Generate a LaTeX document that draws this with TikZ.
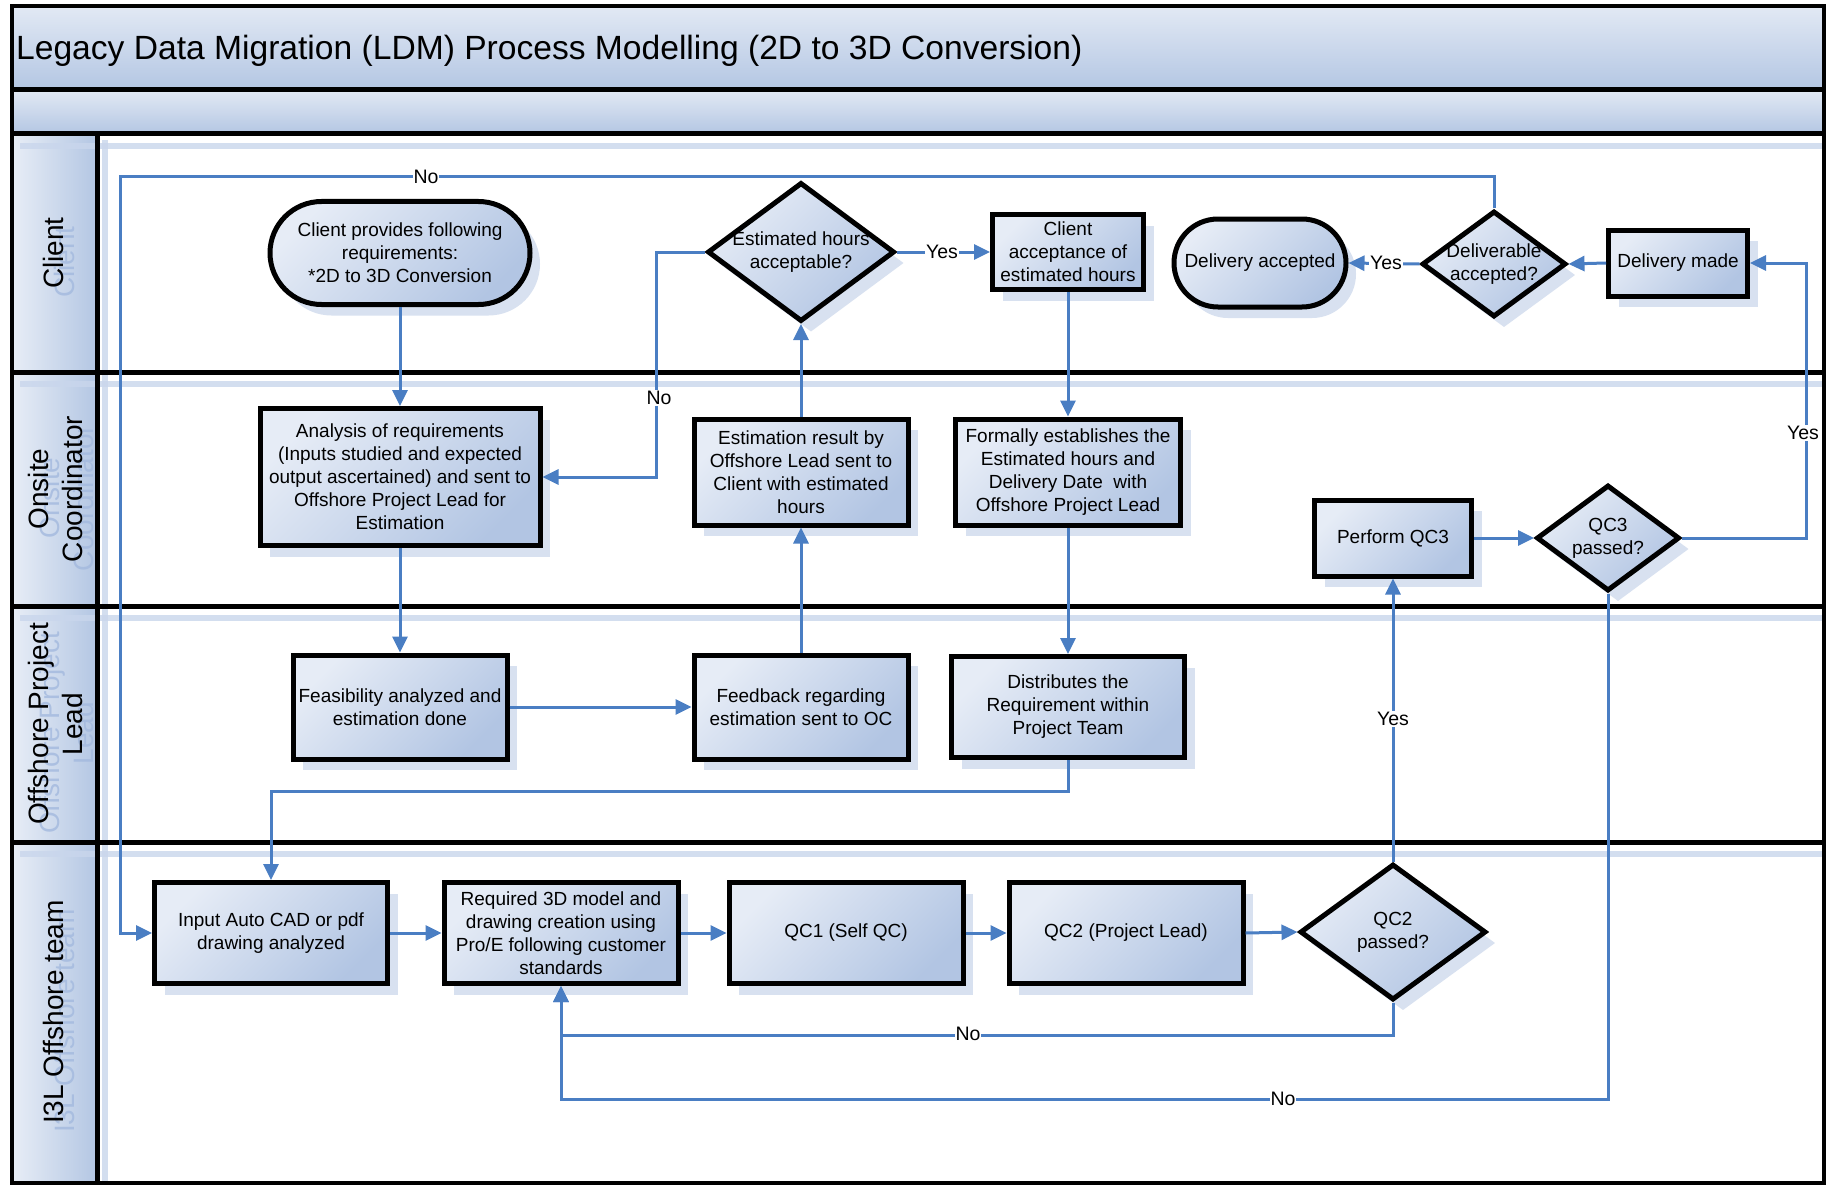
\documentclass[tikz,border=0pt]{standalone}
\usepackage{fontspec}
\setmainfont{Liberation Sans}
\usetikzlibrary{arrows.meta,shapes.geometric,shapes.misc,shadows,calc}

\definecolor{lineblue}{HTML}{4A7EC3}
\definecolor{boxlight}{HTML}{E6ECF6}
\definecolor{boxdark}{HTML}{B2C5E3}
\definecolor{shadowblue}{HTML}{D8E1F0}
\definecolor{ghostblue}{HTML}{A3B9DE}
\definecolor{bandlight}{HTML}{E2E9F4}
\definecolor{banddark}{HTML}{B3C6E3}
\definecolor{laneshadow}{HTML}{C9D6EC}

\tikzset{
  boxbase/.style={draw=black, line width=5pt, top color=boxlight, bottom color=boxdark, shading angle=45,
    general shadow={fill=shadowblue, shadow xshift=10pt, shadow yshift=-11pt},
    align=center, font=\fontsize{19}{23}\selectfont, inner sep=2pt},
  procbox/.style={boxbase, rectangle},
  termbox/.style={boxbase, rounded rectangle},
  decbox/.style={boxbase, diamond, inner sep=0pt},
  dectext/.style={align=center, font=\fontsize{19}{23}\selectfont},
  conn/.style={draw=lineblue, line width=3pt, -{Triangle[length=16pt,width=15pt]}},
  lbl/.style={fill=white, inner sep=1pt, font=\fontsize{19.5}{21}\selectfont},
  band/.style={draw=none, top color=bandlight, bottom color=banddark, anchor=north west, inner sep=0pt},
  lanehdr/.style={draw=none, left color=bandlight!80!white, right color=banddark, anchor=north west, inner sep=0pt, minimum width=85pt},
  lanetxt/.style={rotate=90, align=center, font=\fontsize{28}{34}\selectfont},
  ghosttxt/.style={lanetxt, text=ghostblue, opacity=0.8},
  laneline/.style={draw=black, line width=5pt},
  shline/.style={draw=laneshadow, line width=6pt, opacity=0.8},
}

\begin{document}
\begin{tikzpicture}[x=1pt,y=-1pt]
\useasboundingbox (0,0) rectangle (1833,1185);
\fill[white] (0,0) rectangle (1833,1185);

% bands
\node[band, minimum width=1812pt, minimum height=84pt] (titleband) at (12,6) {};
\node[band, minimum width=1812pt, minimum height=44pt] (subband) at (12,90) {};
\node[anchor=west, font=\fontsize{33.6}{38}\selectfont, inner sep=0pt] (title) at (16,51) {Legacy Data Migration (LDM) Process Modelling (2D to 3D Conversion)};

% lane headers
\node[lanehdr, minimum height=238pt] (h1) at (12,134) {};
\node[lanehdr, minimum height=234pt] (h2) at (12,372) {};
\node[lanehdr, minimum height=236pt] (h3) at (12,606) {};
\node[lanehdr, minimum height=341pt] (h4) at (12,842) {};

% lane shadow bands
\draw[shline] (20,146) -- (1824,146);
\draw[shline] (20,384) -- (1824,384);
\draw[shline] (20,618) -- (1824,618);
\draw[shline] (20,854) -- (1824,854);
\draw[shline] (105,140) -- (105,1183);

% lane labels (with faint reflection)
\node[ghosttxt] (g1) at (64,262) {Client};
\node[ghosttxt] (g2) at (66,498) {Onsite\\Coordinator};
\node[ghosttxt] (g3) at (66,733) {Offshore Project\\Lead};
\node[ghosttxt] (g4) at (64,1021) {I3L Offshore team};
\node[lanetxt] (l1) at (53,253) {Client};
\node[lanetxt] (l2) at (55,489) {Onsite\\Coordinator};
\node[lanetxt] (l3) at (55,724) {Offshore Project\\Lead};
\node[lanetxt] (l4) at (53,1012) {I3L Offshore team};

% lane lines
\draw[laneline] (12,90) -- (1824,90);
\draw[laneline] (12,134) -- (1824,134);
\draw[laneline] (12,372) -- (1824,372);
\draw[laneline] (12,606) -- (1824,606);
\draw[laneline] (12,842) -- (1824,842);
\draw[laneline] (97,134) -- (97,1183);
\draw[draw=black, line width=4.5pt] (12,6) rectangle (1824,1183);

% Client lane
\node[termbox, minimum width=264pt, minimum height=103pt] (cp) at (400,253) {Client provides following\\requirements:\\*2D to 3D Conversion};
\node[decbox, minimum width=187pt, minimum height=139pt, label={[dectext]center:Estimated hours\\acceptable?}] (eh) at (801,252) {};
\node[procbox, minimum width=151pt, minimum height=75pt] (ca) at (1068,252) {Client\\acceptance of\\estimated hours};
\node[termbox, minimum width=176pt, minimum height=88pt] (da) at (1260,263) {Delivery accepted};
\node[decbox, minimum width=144pt, minimum height=106pt, label={[dectext]center:Deliverable\\accepted?}] (dl) at (1494,264) {};
\node[procbox, minimum width=139pt, minimum height=66pt] (dm) at (1678,263) {Delivery made};

% Onsite coordinator lane
\node[procbox, minimum width=280pt, minimum height=137pt] (an) at (400,477) {Analysis of requirements\\(Inputs studied and expected\\output ascertained) and sent to\\Offshore Project Lead for\\Estimation};
\node[procbox, minimum width=214pt, minimum height=106pt] (er) at (801,472) {Estimation result by\\Offshore Lead sent to\\Client with estimated\\hours};
\node[procbox, minimum width=225pt, minimum height=106pt] (fe) at (1068,472) {Formally establishes the\\Estimated hours and\\Delivery Date\ \ with\\Offshore Project Lead};
\node[procbox, minimum width=157pt, minimum height=76pt] (q3) at (1393,538) {Perform QC3};
\node[decbox, minimum width=143pt, minimum height=106pt, label={[dectext]center:QC3\\passed?}] (q3d) at (1608,538) {};

% Offshore project lead lane
\node[procbox, minimum width=214pt, minimum height=104pt] (fa) at (400,707) {Feasibility analyzed and\\estimation done};
\node[procbox, minimum width=214pt, minimum height=104pt] (fb) at (801,707) {Feedback regarding\\estimation sent to OC};
\node[procbox, minimum width=233pt, minimum height=101pt] (di) at (1068,707) {Distributes the\\Requirement within\\Project Team};

% I3L offshore team lane
\node[procbox, minimum width=233pt, minimum height=101pt] (in) at (271,933) {Input Auto CAD or pdf\\drawing analyzed};
\node[procbox, minimum width=234pt, minimum height=101pt] (rq) at (561,933) {Required 3D model and\\drawing creation using\\Pro/E following customer\\standards};
\node[procbox, minimum width=234pt, minimum height=101pt] (c1) at (846,933) {QC1 (Self QC)};
\node[procbox, minimum width=234pt, minimum height=101pt] (c2) at (1126,933) {QC2 (Project Lead)};
\node[decbox, minimum width=186pt, minimum height=136pt, label={[dectext]center:QC2\\passed?}] (q2d) at (1393,932) {};

% helper coordinates
\coordinate (topno) at (120,177);
\coordinate (lowno) at (0,1099);

% connectors
\draw[conn] (cp.south) -- (an.north);
\draw[conn] (an.south) -- (fa.north);
\draw[conn] (fa.east) -- (fb.west);
\draw[conn] (fb.north) -- (er.south);
\draw[conn] (er.north) -- (eh.south);
\draw[conn] (eh.east) -- (ca.west);
\draw[conn] (eh.west) -- ++(-49,0) |- (an.east);
\draw[conn] (ca.south) -- (fe.north);
\draw[conn] (fe.south) -- (di.north);
\draw[conn] (di.south) -- ++(0,31) -| (in.north);
\draw[conn] (in.east) -- (rq.west);
\draw[conn] (rq.east) -- (c1.west);
\draw[conn] (c1.east) -- (c2.west);
\draw[conn] (c2.east) -- (q2d.west);
\draw[conn] (q2d.north) -- (q3.south);
\draw[conn] (q2d.south) -- ++(0,33) -| (rq.south);
\draw[conn] (q3d.south) -- (q3d.south |- lowno) -| (rq.south);
\draw[conn] (q3.east) -- (q3d.west);
\draw[conn] (q3d.east) -- ++(124,0) |- (dm.east);
\draw[conn] (dm.west) -- (dl.east);
\draw[conn] (dl.west) -- (da.east);
\draw[conn] (dl.north) -- (dl.north |- topno) -- (topno) |- (in.west);

% connector labels
\node[lbl] (lb1) at (942,252) {Yes};
\node[lbl] (lb2) at (659,398) {No};
\node[lbl] (lb3) at (1386,263) {Yes};
\node[lbl] (lb4) at (426,177) {No};
\node[lbl] (lb5) at (1803,433) {Yes};
\node[lbl] (lb6) at (1393,719) {Yes};
\node[lbl] (lb7) at (968,1034) {No};
\node[lbl] (lb8) at (1283,1099) {No};
\end{tikzpicture}
\end{document}
